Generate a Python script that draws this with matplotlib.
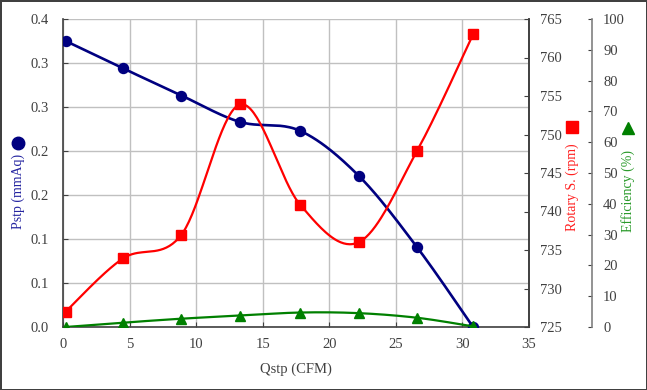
import numpy as np
import matplotlib
matplotlib.use("Agg")
import matplotlib.pyplot as plt
from matplotlib.lines import Line2D

plt.rcParams['font.family'] = ['Liberation Serif', 'DejaVu Serif']

# ---- data ----
qstp = [0.2, 4.5, 8.9, 13.3, 17.8, 22.2, 26.6, 30.8]
pstp = [0.325, 0.294, 0.263, 0.233, 0.223, 0.172, 0.0905, 0.0]
rotary = [727.0, 733.9, 737.0, 753.9, 740.9, 736.0, 747.9, 763.0]
efficiency = [0.0, 1.4, 2.7, 3.7, 4.7, 4.5, 3.0, 0.2]

x_ticks = [0, 5, 10, 15, 20, 25, 30, 35]
p_ticks = [0, 0.05, 0.10, 0.15, 0.20, 0.25, 0.30, 0.35]
p_tick_labels = ['0.0', '0.1', '0.1', '0.2', '0.2', '0.3', '0.3', '0.4']
r_ticks = [725, 730, 735, 740, 745, 750, 755, 760, 765]
e_ticks = [0, 10, 20, 30, 40, 50, 60, 70, 80, 90, 100]


def smooth(x, y, n=40):
    """Excel-like smoothed line (uniform Catmull-Rom / Bezier)."""
    x = np.asarray(x, float)
    y = np.asarray(y, float)
    px = np.concatenate([[x[0]], x, [x[-1]]])
    py = np.concatenate([[y[0]], y, [y[-1]]])
    xs, ys = [], []
    t = np.linspace(0, 1, n)
    for i in range(1, len(px) - 2):
        p0 = np.array([px[i - 1], py[i - 1]])
        p1 = np.array([px[i], py[i]])
        p2 = np.array([px[i + 1], py[i + 1]])
        p3 = np.array([px[i + 2], py[i + 2]])
        c1 = p1 + (p2 - p0) / 6.0
        c2 = p2 - (p3 - p1) / 6.0
        b = ((1 - t) ** 3)[:, None] * p1 + (3 * (1 - t) ** 2 * t)[:, None] * c1 \
            + (3 * (1 - t) * t ** 2)[:, None] * c2 + (t ** 3)[:, None] * p2
        xs.extend(b[:, 0])
        ys.extend(b[:, 1])
    return xs, ys


fig = plt.figure(figsize=(6.47, 3.90), dpi=100)
fig.patch.set_edgecolor('#404040')
fig.patch.set_linewidth(2.0)

ax = fig.add_axes([63 / 647, 1 - 327 / 390, (529 - 63) / 647, (327 - 19) / 390])
ax2 = ax.twinx()
ax3 = ax.twinx()

navy = '#000080'
red = '#ff0000'
green = '#008000'
spine_c = '#404040'
text_c = '#404040'

# Pstp
sx, sy = smooth(qstp, pstp)
ax.plot(sx, sy, color=navy, lw=1.9, zorder=3)
ax.plot(qstp, pstp, 'o', color=navy, ms=7.2, zorder=4)
ax.set_xlim(0, 35)
ax.set_ylim(0, 0.35)
ax.set_xticks(x_ticks)
ax.set_yticks(p_ticks)
ax.set_yticklabels(p_tick_labels)
ax.grid(True, color='#c0c0c0', lw=1.0)
ax.set_axisbelow(True)
ax.tick_params(axis='both', direction='in', length=3.5, color=spine_c,
               labelsize=10.5, labelcolor=text_c)
ax.tick_params(axis='y', pad=10)
ax.tick_params(axis='x', pad=8)
for s in ['left', 'bottom', 'right']:
    ax.spines[s].set_color(spine_c)
    ax.spines[s].set_linewidth(1.2)
ax.spines['top'].set_visible(False)
ax.set_xlabel('Qstp (CFM)', fontsize=10.5, color=text_c, labelpad=8)

# Rotary speed
rx, ry = smooth(qstp, rotary)
ax2.plot(rx, ry, color=red, lw=1.6, zorder=3)
ax2.plot(qstp, rotary, 's', color=red, ms=7.2, zorder=4)
ax2.set_ylim(725, 765)
ax2.set_yticks(r_ticks)
ax2.tick_params(axis='y', direction='in', length=3.5, color=spine_c,
                labelsize=10.5, labelcolor=text_c, pad=8)
ax2.spines['right'].set_color(spine_c)
ax2.spines['right'].set_linewidth(1.2)
for s in ['top', 'left', 'bottom']:
    ax2.spines[s].set_visible(False)

# Efficiency
ex, ey = smooth(qstp, efficiency)
ax3.plot(ex, ey, color=green, lw=1.6, zorder=3)
ax3.plot(qstp, efficiency, '^', color=green, ms=7, zorder=4)
ax3.set_ylim(0, 100)
ax3.set_yticks(e_ticks)
ax3.spines['right'].set_position(('outward', 63 * 72 / 100))
ax3.spines['right'].set_color('#808080')
ax3.spines['right'].set_linewidth(1.2)
for s in ['top', 'left', 'bottom']:
    ax3.spines[s].set_visible(False)
ax3.tick_params(axis='y', direction='in', length=3, color=spine_c,
                labelsize=10.5, labelcolor=text_c, pad=8)

# Axis titles with marker glyphs
fig.text(18 / 647, 1 - 191 / 390, 'Pstp (mmAq)', rotation=90, color='#2424a0',
         fontsize=10, ha='center', va='center')
fig.add_artist(Line2D([18 / 647], [1 - 143 / 390], marker='o', color=navy,
                      ms=9, transform=fig.transFigure))
fig.text(572 / 647, 1 - 187 / 390, 'Rotary S. (rpm)', rotation=90, color='#ff2020',
         fontsize=10, ha='center', va='center')
fig.add_artist(Line2D([572 / 647], [1 - 127 / 390], marker='s', color=red,
                      ms=9, transform=fig.transFigure))
fig.text(628 / 647, 1 - 191 / 390, 'Efficiency (%)', rotation=90, color='#2a9a2a',
         fontsize=10, ha='center', va='center')
fig.add_artist(Line2D([628 / 647], [1 - 128 / 390], marker='^', color=green,
                      ms=9, transform=fig.transFigure))

fig.savefig('out.png', dpi=100, edgecolor=fig.get_edgecolor())
